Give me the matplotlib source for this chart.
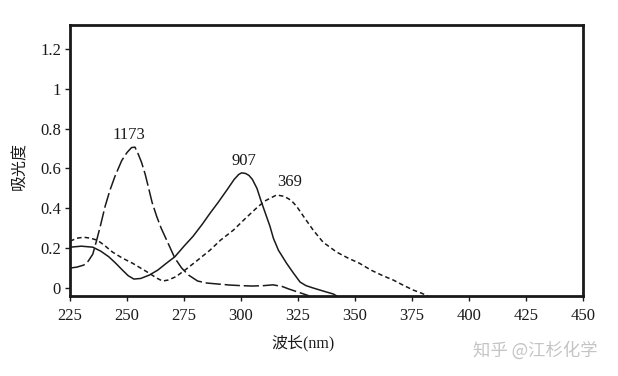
import matplotlib
matplotlib.use("Agg")
import matplotlib.pyplot as plt

plt.rcParams['font.family'] = ['Liberation Serif', 'Noto Sans CJK SC', 'DejaVu Sans']

# Data
wl_907 = [225, 230, 235, 238.5, 242, 245, 248, 250.5, 253, 256, 259.8, 263.5, 267, 271,
          275, 279, 283, 286.4, 290, 293.7, 297, 299, 300.3, 302, 303.5, 305, 307, 309, 312.7, 314.2,
          316.4, 320, 323, 325.9, 328.5, 331.7, 336, 340.5, 342]
ab_907 = [0.205, 0.21, 0.205, 0.185, 0.157, 0.125, 0.09, 0.062, 0.045, 0.048, 0.065, 0.09,
          0.122, 0.157, 0.21, 0.26, 0.32, 0.375, 0.43, 0.49, 0.545, 0.570, 0.578, 0.575, 0.565,
          0.545, 0.50, 0.43, 0.31, 0.25, 0.19, 0.124, 0.075, 0.03, 0.012, 0.0, -0.015, -0.03, -0.04]

wl_1173 = [225, 228, 231, 233, 235, 236.7, 238.5, 240.4, 242.5, 244.7, 247.7, 250, 252,
           253.5, 255, 256.4, 258, 259.3, 261, 263, 265, 267.4, 271, 274, 277, 281, 285,
           290, 295, 300, 305, 310, 314, 318, 321, 324.4, 328.8, 330]
ab_1173 = [0.10, 0.105, 0.115, 0.135, 0.17, 0.24, 0.32, 0.41, 0.49, 0.56, 0.64, 0.68, 0.705,
           0.707, 0.67, 0.63, 0.57, 0.51, 0.43, 0.36, 0.30, 0.24, 0.15, 0.10, 0.065, 0.035,
           0.025, 0.02, 0.015, 0.012, 0.01, 0.012, 0.016, 0.008, -0.005, -0.018, -0.035, -0.04]

wl_369 = [225, 228, 231, 234, 237, 240, 243.7, 248, 252.5, 256, 259.8, 263, 265.6, 268,
          271.5, 276, 281, 286.4, 291, 296.6, 302, 307.6, 311, 315.6, 319, 322, 324.4, 328,
          331.7, 336, 342, 347, 352, 357, 362, 366.8, 371, 375.5, 379, 382]
ab_369 = [0.235, 0.25, 0.255, 0.25, 0.24, 0.215, 0.18, 0.15, 0.124, 0.10, 0.074, 0.05, 0.035,
          0.04, 0.057, 0.095, 0.14, 0.19, 0.24, 0.29, 0.35, 0.41, 0.44, 0.467, 0.46, 0.44,
          0.41, 0.35, 0.29, 0.23, 0.18, 0.15, 0.124, 0.09, 0.063, 0.04, 0.015, -0.01, -0.025,
          -0.04]

labels = ["1173", "907", "369"]
label_pos = [(250.8, 0.77), (301.3, 0.635), (321.5, 0.53)]

x_ticks = [225, 250, 275, 300, 325, 350, 375, 400, 425, 450]
y_ticks = [0, 0.2, 0.4, 0.6, 0.8, 1.0, 1.2]
y_tick_labels = ["0", "0.2", "0.4", "0.6", "0.8", "1", "1.2"]

fig = plt.figure(figsize=(6.18, 3.76), dpi=100)
ax = fig.add_axes([70/618, 80/376, 513/618, 271/376])

ax.plot(wl_907, ab_907, color='#1a1a1a', lw=1.1, linestyle='-')
ax.plot(wl_1173, ab_1173, color='#1a1a1a', lw=1.1, linestyle=(0, (10, 2.5)))
ax.plot(wl_369, ab_369, color='#1a1a1a', lw=1.1, linestyle=(0, (3, 2)))

for t, (xx, yy) in zip(labels, label_pos):
    ax.text(xx, yy, t, fontsize=12, ha='center', va='center', color='#1a1a1a')

ax.set_xlim(225, 450)
ax.set_ylim(-0.04, 1.32)
ax.set_xticks(x_ticks)
ax.set_xticklabels([str(v) for v in x_ticks])
ax.set_yticks(y_ticks)
ax.set_yticklabels(y_tick_labels)
ax.tick_params(axis='both', direction='out', length=3.5, width=1, labelsize=12,
               colors='#1a1a1a', pad=3)
ax.tick_params(axis='x', pad=5)
for s in ax.spines.values():
    s.set_linewidth(2)
    s.set_color('#1a1a1a')

fig.text(303/618, 1 - 343/376, "波长(nm)", fontsize=11.5, ha='center', va='center',
         color='#1a1a1a')
fig.text(20/618, 1 - 166/376, "吸光度", fontsize=11.5, ha='center', va='center',
         rotation=90, color='#1a1a1a')
fig.text(535/618, 1 - 350/376, "知乎 @江杉化学", fontsize=12.5, ha='center', va='center',
         color='#c4c4c4', family=['Noto Sans CJK SC', 'DejaVu Sans'])

fig.savefig("out.png", dpi=100)
